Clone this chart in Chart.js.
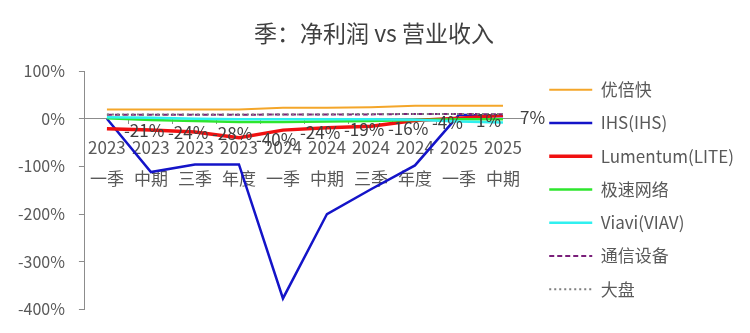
<!DOCTYPE html>
<html lang="zh-CN">
<head>
<meta charset="UTF-8">
<title>季：净利润 vs 营业收入</title>
<script src="https://cdn.jsdelivr.net/npm/chart.js"></script>
<style>
  html, body { margin: 0; padding: 0; background: #fff; overflow: hidden; }
  .grafico { width: 750px; height: 333px; }
</style>
</head>
<body>
<div class="grafico">
  <canvas id="grafico_linha"></canvas>
</div>
<script>
// categorias (ano / período)
var anos = ['2023', '2023', '2023', '2023', '2024', '2024', '2024', '2024', '2025', '2025'];
var periodos = ['一季', '中期', '三季', '年度', '一季', '中期', '三季', '年度', '一季', '中期'];

// séries (%)
var youbeikuai = [19, 19, 19, 19, 23, 23, 24, 27, 27, 27];
var ihs = [0, -112, -96, -96, -377, -200, -148, -98, 8, 5];
var lumentum = [-21, -24, -28, -40, -24, -19, -16, -4, 1, 7];
var jisuWangluo = [1, -3, -5, -7, -7, -6, -5, -3, -1, -1];
var viavi = [3, 2, 0, -1, -1, -1, -1, -2, -6, -8];
var tongxinShebei = [8, 8, 8, 8, 9, 9, 9, 10, 10, 9];
var dapan = [9, 9, 9, 9, 9, 9, 10, 10, 10, 10];

var yTicks = [100, 0, -100, -200, -300, -400];

var fonte = '"Noto Sans CJK SC", "Noto Sans", sans-serif';
var corTexto = '#595959';

var labels = [];
for (var i = 0; i < anos.length; i++) {
    labels.push([anos[i], periodos[i]]);
}

// rótulos de dados da série Lumentum, à direita de cada ponto
var rotulosPlugin = {
    id: 'rotulos',
    afterDatasetsDraw: function (chart) {
        var ctx = chart.ctx;
        var meta = chart.getDatasetMeta(2);
        ctx.save();
        ctx.font = '17px ' + fonte;
        ctx.fillStyle = '#404040';
        ctx.textAlign = 'left';
        ctx.textBaseline = 'middle';
        meta.data.forEach(function (pt, idx) {
            ctx.fillText(lumentum[idx] + '%', pt.x + 17, pt.y + 2);
        });
        ctx.restore();
    }
};

// ordem de desenho como no Excel: última série por cima
var dados = {
    labels: labels,
    datasets: [
        { label: '优倍快', data: youbeikuai, borderColor: '#F4A62A', borderWidth: 2, order: 6 },
        { label: 'IHS(IHS)', data: ihs, borderColor: '#1414C8', borderWidth: 2.5, order: 5 },
        { label: 'Lumentum(LITE)', data: lumentum, borderColor: '#F01010', borderWidth: 3.5, order: 4 },
        { label: '极速网络', data: jisuWangluo, borderColor: '#2EE62E', borderWidth: 2.5, order: 3 },
        { label: 'Viavi(VIAV)', data: viavi, borderColor: '#30F0F0', borderWidth: 2.5, order: 2 },
        { label: '通信设备', data: tongxinShebei, borderColor: '#7A1F7A', borderWidth: 2, borderDash: [5, 3], order: 1 },
        { label: '大盘', data: dapan, borderColor: '#7F7F7F', borderWidth: 2, borderDash: [2, 3], order: 0 }
    ]
};

new Chart(document.getElementById('grafico_linha'), {
    type: 'line',
    data: dados,
    plugins: [rotulosPlugin],
    options: {
        responsive: true,
        maintainAspectRatio: false,
        animation: false,
        layout: { padding: { left: 4, right: 6, bottom: 19 } },
        elements: {
            point: { radius: 0 },
            line: { tension: 0 }
        },
        plugins: {
            title: {
                display: true,
                text: '季：净利润 vs 营业收入',
                color: '#404040',
                font: { family: fonte, size: 23, weight: 'normal' },
                padding: { top: 19, bottom: 24.4 }
            },
            legend: {
                position: 'right',
                align: 'end',
                maxWidth: 240,
                labels: {
                    usePointStyle: true,
                    pointStyle: 'line',
                    pointStyleWidth: 43,
                    boxHeight: 15,
                    padding: 16.25,
                    color: corTexto,
                    font: { family: fonte, size: 17 },
                    sort: function (a, b) { return a.datasetIndex - b.datasetIndex; },
                    generateLabels: function (chart) {
                        var itens = Chart.defaults.plugins.legend.labels.generateLabels(chart);
                        itens.forEach(function (it) {
                            var ds = chart.data.datasets[it.datasetIndex];
                            it.strokeStyle = ds.borderColor;
                            it.lineWidth = ds.borderWidth;
                            it.lineDash = ds.borderDash || [];
                            it.pointStyle = 'line';
                        });
                        return itens;
                    }
                }
            },
            tooltip: { enabled: false }
        },
        scales: {
            x: {
                position: { y: 0 },
                offset: true,
                border: { color: '#8C8C8C', width: 1 },
                grid: { drawOnChartArea: false, offset: true, tickLength: 5, color: '#8C8C8C' },
                ticks: {
                    color: corTexto,
                    maxRotation: 0,
                    autoSkip: false,
                    padding: 8,
                    font: { family: fonte, size: 17, lineHeight: 1.85 }
                }
            },
            y: {
                min: -400,
                max: 100,
                afterBuildTicks: function (axis) {
                    axis.ticks = yTicks.map(function (v) { return { value: v }; });
                },
                border: { color: '#8C8C8C', width: 1 },
                grid: { drawOnChartArea: false, tickLength: 6, color: '#8C8C8C' },
                ticks: {
                    color: corTexto,
                    padding: 14,
                    font: { family: fonte, size: 16 },
                    callback: function (v) { return v + '%'; }
                }
            },
            // espaço entre a área do gráfico e a legenda
            folga: {
                position: 'right',
                display: true,
                grid: { display: false },
                border: { display: false },
                ticks: { display: false },
                afterFit: function (axis) { axis.width = 8; }
            }
        }
    }
});
</script>
</body>
</html>
